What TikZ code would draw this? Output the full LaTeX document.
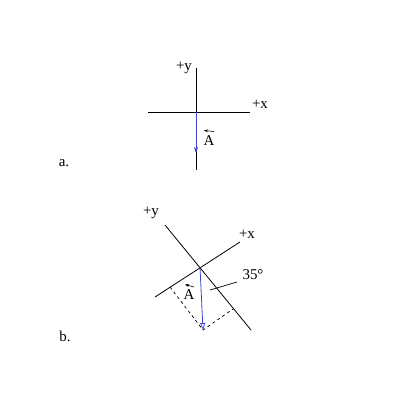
\documentclass[tikz,border=0pt]{standalone}
\usepackage{fontspec}
\setmainfont{Liberation Serif}
\usetikzlibrary{arrows.meta}
\begin{document}
\begin{tikzpicture}[x=1bp,y=-1bp,
  axis/.style={line width=0.8bp,black},
  vec/.style={line width=0.8bp,color={rgb,255:red,60;green,70;blue,200}},
  lbl/.style={font=\fontsize{15}{17}\selectfont,inner sep=0pt},
  hatarrow/.style={line width=0.6bp,-{Stealth[length=4bp,width=3bp]}},
  dashline/.style={dashed,line width=0.7bp}]
\useasboundingbox (0,0) rectangle (400,400);
% part a
\coordinate (aT) at (196,68);
\coordinate (aB) at (196,170);
\coordinate (aL) at (148,112);
\coordinate (aR) at (250,112);
\coordinate (aO) at (196,112);
\coordinate (aTip) at (196,153);
\draw[axis] (aT) -- (aB);
\draw[axis] (aL) -- (aR);
\draw[vec,-{Stealth[length=6bp,width=4bp]}] (aO) -- (aTip);
\node[lbl] (ay) at (184,68) {+y};
\node[lbl] (ax) at (260,104) {+x};
\node[lbl] (aA) at (209,141) {A};
\coordinate (ah1) at (214,131.5);
\coordinate (ah2) at (204,130.5);
\draw[hatarrow] (ah1) -- (ah2);
\node[lbl] (alab) at (64,163) {a.};
% part b
\coordinate (bO) at (200,267);
\coordinate (bXL) at (155,297);
\coordinate (bXR) at (240,242);
\coordinate (bYT) at (165,225);
\coordinate (bYB) at (251,330);
\coordinate (bTip) at (203,330);
\coordinate (bD1) at (170,287);
\coordinate (bD2) at (233,309);
\draw[axis] (bXL) -- (bXR);
\draw[axis] (bYT) -- (bYB);
\draw[dashline] (bD1) -- (bTip) -- (bD2);
\draw[vec,-{Triangle[open,length=7bp,width=5bp]}] (bO) -- (bTip);
\node[lbl] (by) at (151,213) {+y};
\node[lbl] (bx) at (247,234) {+x};
\node[lbl] (bang) at (253,275) {35°};
\coordinate (bl1) at (210,290);
\coordinate (bl2) at (237,282);
\draw[line width=0.7bp] (bl1) -- (bl2);
\node[lbl] (bA) at (189,295) {A};
\coordinate (bh1) at (194,287);
\coordinate (bh2) at (185,284.5);
\draw[hatarrow] (bh1) -- (bh2);
\node[lbl] (blab) at (65,336) {b.};
\end{tikzpicture}
\end{document}
